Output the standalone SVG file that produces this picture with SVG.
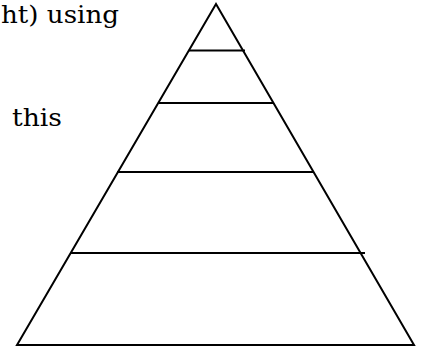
<svg xmlns="http://www.w3.org/2000/svg" width="424" height="349" viewBox="0 0 424 349">
<style>
.t{font-family:"Century Schoolbook L","DejaVu Serif","Liberation Serif",serif;font-size:25px;fill:#000}
.l{stroke:#000;stroke-width:2;fill:none}
</style>
<rect width="424" height="349" fill="#fff"/>
<g id="text">
<text class="t" x="1" y="23" textLength="118" lengthAdjust="spacingAndGlyphs">ht) using</text>
<text class="t" x="12" y="126" textLength="50" lengthAdjust="spacingAndGlyphs">this</text>
</g>
<g id="pyramid">
<polygon class="l" points="216,4 17,345 414,345" stroke-linejoin="miter"/>
<line class="l" x1="189" y1="50.5" x2="245" y2="50.5"/>
<line class="l" x1="159" y1="103" x2="274" y2="103"/>
<line class="l" x1="117" y1="172" x2="314" y2="172"/>
<line class="l" x1="71" y1="253" x2="365" y2="253"/>
</g>
</svg>
